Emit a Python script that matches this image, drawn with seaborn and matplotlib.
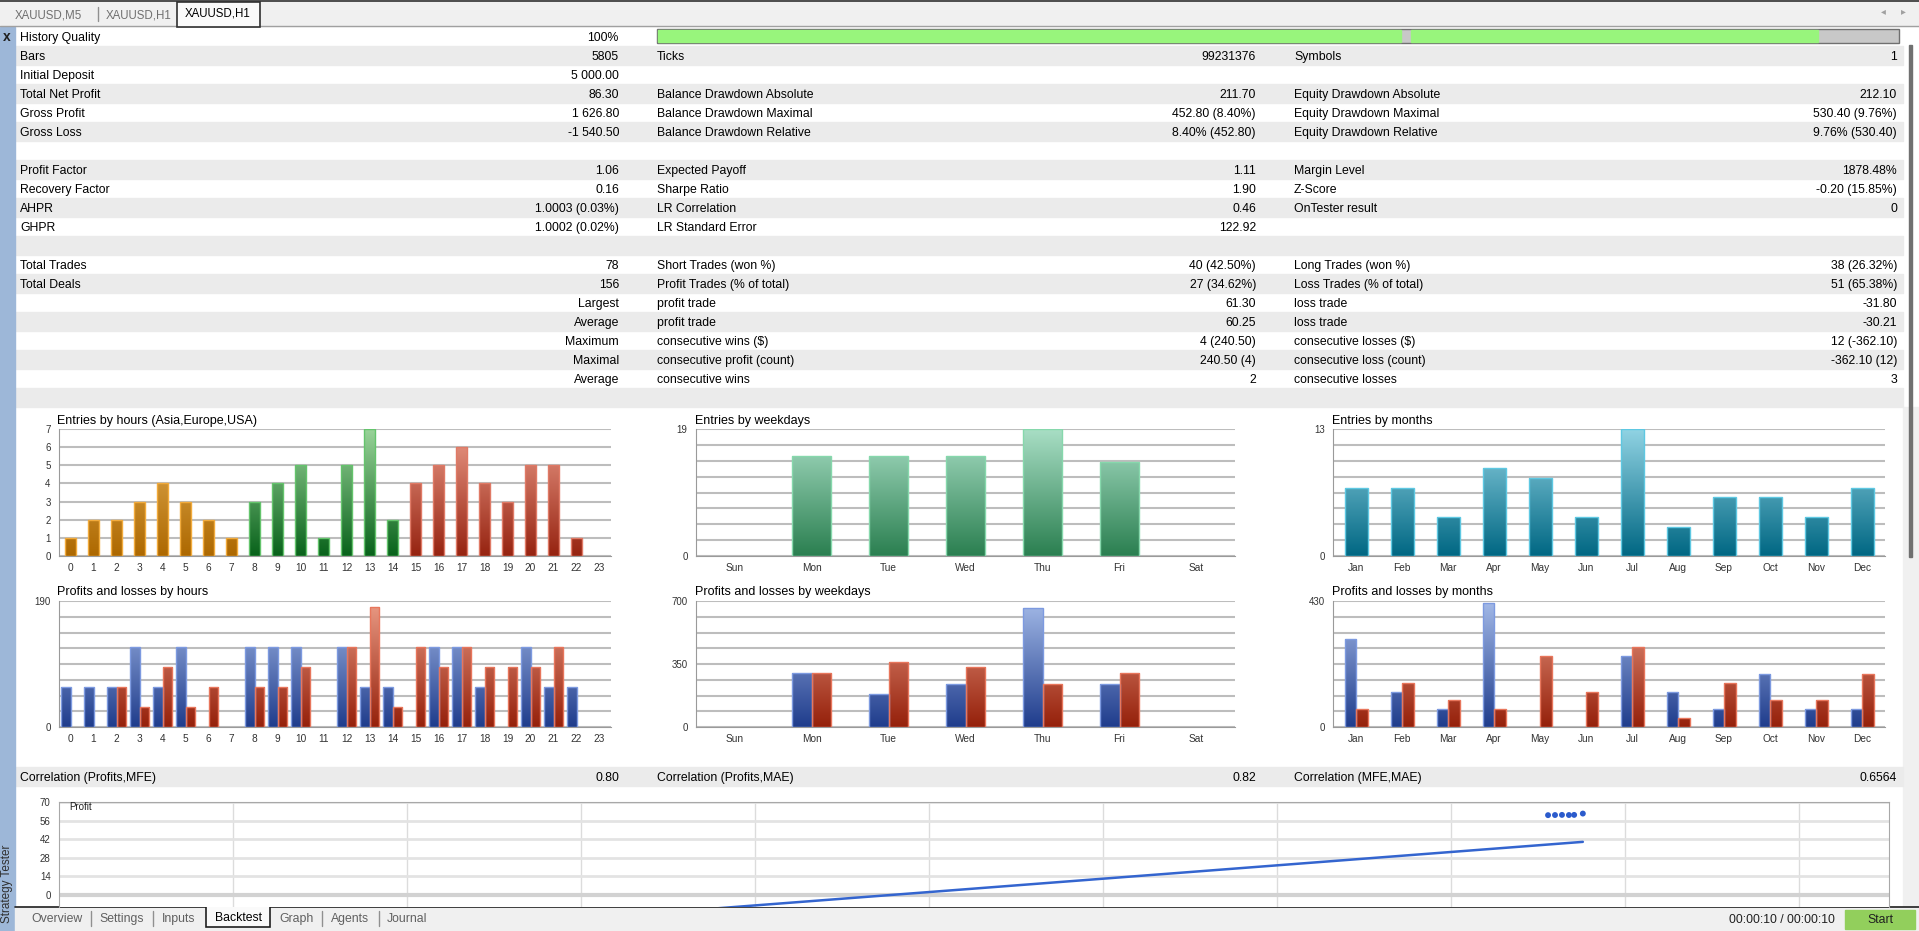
import numpy as np
import pandas as pd
import matplotlib
matplotlib.use('Agg')
import matplotlib.pyplot as plt
from matplotlib.colors import LinearSegmentedColormap
from matplotlib.patches import Rectangle
import seaborn as sns

# ---------------- values ----------------
col1_labels = ["History Quality", "Bars", "Initial Deposit", "Total Net Profit", "Gross Profit", "Gross Loss", "",
               "Profit Factor", "Recovery Factor", "AHPR", "GHPR", "",
               "Total Trades", "Total Deals", "", "", "", "", "", ""]
col1_values = ["100%", "5805", "5 000.00", "86.30", "1 626.80", "-1 540.50", "",
               "1.06", "0.16", "1.0003 (0.03%)", "1.0002 (0.02%)", "",
               "78", "156", "Largest", "Average", "Maximum", "Maximal", "Average", ""]
col2_labels = ["", "Ticks", "", "Balance Drawdown Absolute", "Balance Drawdown Maximal", "Balance Drawdown Relative", "",
               "Expected Payoff", "Sharpe Ratio", "LR Correlation", "LR Standard Error", "",
               "Short Trades (won %)", "Profit Trades (% of total)", "profit trade", "profit trade",
               "consecutive wins ($)", "consecutive profit (count)", "consecutive wins", ""]
col2_values = ["", "99231376", "", "211.70", "452.80 (8.40%)", "8.40% (452.80)", "",
               "1.11", "1.90", "0.46", "122.92", "",
               "40 (42.50%)", "27 (34.62%)", "61.30", "60.25", "4 (240.50)", "240.50 (4)", "2", ""]
col3_labels = ["", "Symbols", "", "Equity Drawdown Absolute", "Equity Drawdown Maximal", "Equity Drawdown Relative", "",
               "Margin Level", "Z-Score", "OnTester result", "", "",
               "Long Trades (won %)", "Loss Trades (% of total)", "loss trade", "loss trade",
               "consecutive losses ($)", "consecutive loss (count)", "consecutive losses", ""]
col3_values = ["", "1", "", "212.10", "530.40 (9.76%)", "9.76% (530.40)", "",
               "1878.48%", "-0.20 (15.85%)", "0", "", "",
               "38 (26.32%)", "51 (65.38%)", "-31.80", "-30.21", "12 (-362.10)", "-362.10 (12)", "3", ""]

corr_labels = ["Correlation (Profits,MFE)", "Correlation (Profits,MAE)", "Correlation (MFE,MAE)"]
corr_values = ["0.80", "0.82", "0.6564"]

hours = [str(h) for h in range(24)]
hour_session = ['Asia'] * 8 + ['Europe'] * 7 + ['USA'] * 9
hour_entries = [1, 2, 2, 3, 4, 3, 2, 1, 3, 4, 5, 1, 5, 7, 2, 4, 5, 6, 4, 3, 5, 5, 1, 0]
hour_profit = [60.3, 60.3, 60.3, 120.5, 60.3, 120.5, 0, 0, 120.5, 120.5, 120.5, 0,
               120.5, 60.3, 60.3, 0, 120.5, 120.5, 60.3, 0, 120.5, 60.3, 60.3, 0]
hour_loss = [0, 0, 60.4, 30.2, 90.6, 30.2, 60.4, 0, 60.4, 60.4, 90.6, 0,
             120.8, 181.3, 30.2, 120.8, 90.6, 120.8, 90.6, 90.6, 90.6, 120.8, 0, 0]

days = ['Sun', 'Mon', 'Tue', 'Wed', 'Thu', 'Fri', 'Sat']
day_entries = [0, 15, 15, 15, 19, 14, 0]
day_profit = [0, 301.2, 180.8, 241.0, 662.8, 241.0, 0]
day_loss = [0, 302.0, 362.1, 332.2, 241.6, 302.0, 0]

months = ['Jan', 'Feb', 'Mar', 'Apr', 'May', 'Jun', 'Jul', 'Aug', 'Sep', 'Oct', 'Nov', 'Dec']
month_entries = [7, 7, 4, 9, 8, 4, 13, 3, 6, 6, 4, 7]
month_profit = [301.2, 120.5, 60.3, 421.8, 0, 0, 241.0, 120.5, 60.3, 180.8, 60.3, 60.3]
month_loss = [60.4, 151.0, 90.6, 60.4, 241.6, 120.8, 271.8, 30.2, 151.0, 90.6, 90.6, 181.2]

# profit vs MFE (only winning trades are inside the visible window)
win_mfe = [85.6, 86.0, 86.4, 86.8, 87.1, 87.6]
win_profit = [60.1, 60.2, 60.3, 60.2, 60.3, 61.3]
lr_mfe = [30.0, 87.6]
lr_profit = [-17.9, 40.0]

# ---------------- figure ----------------
sns.set_style("white")
plt.rcParams['font.family'] = ['Liberation Sans', 'DejaVu Sans']
NARROW = ['Liberation Sans Narrow', 'Liberation Sans', 'DejaVu Sans']

W, H = 1919, 931
fig = plt.figure(figsize=(W / 100, H / 100), dpi=100)
fig.patch.set_facecolor('white')
bg = fig.add_axes([0, 0, 1, 1])
bg.set_xlim(0, W)
bg.set_ylim(H, 0)
bg.axis('off')


def px_axes(l, t, r, b):
    return fig.add_axes([l / W, 1 - b / H, (r - l) / W, (b - t) / H])


# top tab strip
bg.add_patch(Rectangle((0, 0), W, 26, color='#f0f0f0', zorder=0))
bg.plot([0, W], [1, 1], color='#303030', lw=1.2)
bg.plot([0, W], [26, 26], color='#a0a0a0', lw=1)
bg.add_patch(Rectangle((177, 2), 83, 25, facecolor='#fafafa', edgecolor='#303030', lw=1.2, zorder=2))
bg.text(48, 15, "XAUUSD,M5", ha='center', va='center', fontsize=8.3, color='#707070')
bg.plot([98, 98], [7, 21], color='#909090', lw=1)
bg.text(139, 15, "XAUUSD,H1", ha='center', va='center', fontsize=8.3, color='#707070')
bg.text(218, 14, "XAUUSD,H1", ha='center', va='center', fontsize=8.3, color='black', zorder=3)
bg.text(1883, 11, "◂", ha='center', va='center', fontsize=7, color='#a0a0a0', family=['DejaVu Sans'])
bg.text(1903, 11, "▸", ha='center', va='center', fontsize=7, color='#a0a0a0', family=['DejaVu Sans'])

# left strip
bg.add_patch(Rectangle((0, 27), 15, H - 27, color='#9db7d8', zorder=1))
bg.text(7, 37, "x", ha='center', va='center', fontsize=10, fontweight='bold', color='#202020', zorder=3)
bg.text(7, 884, "Strategy Tester", rotation=90, ha='center', va='center', fontsize=8.5, color='#303030', zorder=3)

# right strip + scroll thumb
bg.add_patch(Rectangle((1903, 407), 16, 500, color='#f0f0f0', zorder=0))
bg.add_patch(Rectangle((1909, 45), 3, 512, color='#707070', zorder=2))

# statistics table
ROW_TOP, ROW_H = 27, 19
TXT = dict(va='center', fontsize=8.8, color='black')
for k in range(len(col1_labels)):
    y = ROW_TOP + ROW_H * k
    if k % 2:
        bg.add_patch(Rectangle((15, y), 1888, ROW_H, color='#ebebeb', zorder=0))
    yc = y + ROW_H / 2 + 1.5
    bg.text(20, yc, col1_labels[k], ha='left', **TXT)
    bg.text(619, yc, col1_values[k], ha='right', **TXT)
    bg.text(657, yc, col2_labels[k], ha='left', **TXT)
    bg.text(1256, yc, col2_values[k], ha='right', **TXT)
    bg.text(1294, yc, col3_labels[k], ha='left', **TXT)
    bg.text(1897, yc, col3_values[k], ha='right', **TXT)

# history quality bar
bg.add_patch(Rectangle((657, 29), 1242, 14, facecolor='#c8c8c8', edgecolor='#707070', lw=1, zorder=1))
bg.add_patch(Rectangle((658, 30), 743, 12, color='#98f57c', zorder=2))
bg.add_patch(Rectangle((1411, 30), 407, 12, color='#98f57c', zorder=2))

# correlation row
bg.add_patch(Rectangle((15, 767), 1888, ROW_H, color='#ebebeb', zorder=0))
for lx, vx, lab, val in zip([20, 657, 1294], [619, 1256, 1897], corr_labels, corr_values):
    bg.text(lx, 778, lab, ha='left', **TXT)
    bg.text(vx, 778, val, ha='right', **TXT)

# bottom tab strip
bg.add_patch(Rectangle((15, 907), W - 15, 24, color='#f0f0f0', zorder=1))
bg.plot([15, W], [907, 907], color='#202020', lw=1.2, zorder=2)
bg.add_patch(Rectangle((206, 906), 64, 21, facecolor='#fafafa', edgecolor='#202020', lw=1.2, zorder=3))
for name, cx in zip(["Overview", "Settings", "Inputs", "Graph", "Agents", "Journal"],
                    [57, 122, 179, 296, 350, 407]):
    bg.text(cx, 919, name, ha='center', va='center', fontsize=8.8, color='#606060', zorder=4)
bg.text(238, 918, "Backtest", ha='center', va='center', fontsize=8.8, color='black', zorder=4)
for sx in [91, 153, 322, 379]:
    bg.plot([sx, sx], [911, 926], color='#909090', lw=1, zorder=4)
bg.text(1835, 920, "00:00:10 / 00:00:10", ha='right', va='center', fontsize=8.8, color='#202020', zorder=4)
bg.add_patch(Rectangle((1845, 910), 70, 19, color='#92cf5c', zorder=3))
bg.text(1880, 920, "Start", ha='center', va='center', fontsize=8.8, color='#202020', zorder=4)

# ---------------- bar charts ----------------
GRAD = np.linspace(0, 1, 256).reshape(-1, 1)


def shade(ax, bars, bottom, top, edge, ymax):
    cmap = LinearSegmentedColormap.from_list('g', [bottom, top])
    for b in bars:
        if b.get_height() <= 0:
            b.set_visible(False)
            continue
        x0, w = b.get_x(), b.get_width()
        im = ax.imshow(GRAD, extent=[x0, x0 + w, 0, ymax], origin='lower', aspect='auto',
                       cmap=cmap, zorder=1.5, interpolation='bilinear')
        im.set_clip_path(b)
        b.set_facecolor('none')
        b.set_edgecolor(edge)
        b.set_linewidth(1.0)
        b.set_zorder(2)


def style(ax, ncat, ymax, yticks, ylabels):
    ax.set_xlim(-0.5, ncat - 0.5)
    ax.set_ylim(0, ymax)
    ax.set_yticks(yticks)
    ax.set_yticklabels(ylabels, family=NARROW, fontsize=7, color='#333333')
    ax.set_xticks(np.arange(ncat))
    ax.set_xticks(np.arange(ncat + 1) - 0.5, minor=True)
    for t in ax.get_xticklabels():
        t.set_family(NARROW)
        t.set_fontsize(7.3)
        t.set_color('#333333')
    ax.tick_params(axis='x', which='major', length=0, pad=5)
    ax.tick_params(axis='x', which='minor', length=5, color='#9a9a9a', width=1)
    ax.tick_params(axis='y', length=4, color='#9a9a9a', pad=2)
    ax.grid(axis='y', color='#bdbdbd', lw=1.5)
    ax.set_axisbelow(True)
    for s in ['top', 'right']:
        ax.spines[s].set_visible(False)
    for s in ['left', 'bottom']:
        ax.spines[s].set_color('#9a9a9a')
    ax.set_xlabel('')
    ax.set_ylabel('')


def ends(ymax, n=9):
    ticks = np.linspace(0, ymax, n)
    labels = ['0'] + [''] * (n - 2) + [f"{ymax:g}"]
    return ticks, labels


BLUE = ('#1f3c8c', '#a4bae8', '#7d9ae0')
RED = ('#95200a', '#eb9c86', '#e8765c')


def pl_chart(ax, cats, profit, loss, ymax, width, yticks, ylabels):
    df = pd.DataFrame({'cat': cats * 2, 'kind': ['Profit'] * len(cats) + ['Loss'] * len(cats),
                       'value': profit + loss})
    sns.barplot(df, x='cat', y='value', hue='kind', hue_order=['Profit', 'Loss'], order=cats,
                palette=[BLUE[0], RED[0]], width=width, errorbar=None, legend=False, ax=ax)
    shade(ax, ax.containers[0], BLUE[0], BLUE[1], BLUE[2], ymax)
    shade(ax, ax.containers[1], RED[0], RED[1], RED[2], ymax)
    style(ax, len(cats), ymax, yticks, ylabels)


# hours
ax = px_axes(59, 429, 611, 556)
df = pd.DataFrame({'hour': hours, 'entries': hour_entries, 'session': hour_session})
sns.barplot(df, x='hour', y='entries', hue='session', hue_order=['Asia', 'Europe', 'USA'], order=hours,
            palette=['#b06a00', '#0b6619', '#992510'], dodge=False, width=0.5, errorbar=None,
            legend=False, ax=ax)
session_cols = [('#ad6800', '#e6b25a', '#f2ab3c'), ('#08621a', '#9ad49a', '#64c46c'), ('#962310', '#eb9a88', '#e07a66')]
for cont, (lo, hi, ed) in zip(ax.containers, session_cols):
    shade(ax, cont, lo, hi, ed, 7)
style(ax, 24, 7, np.arange(8), [str(i) for i in range(8)])

ax = px_axes(59, 601, 611, 727)
pl_chart(ax, hours, hour_profit, hour_loss, 190, 0.8, *ends(190))

# weekdays
ax = px_axes(696, 429, 1235, 556)
df = pd.DataFrame({'day': days, 'entries': day_entries})
sns.barplot(df, x='day', y='entries', order=days, color='#2a7f50', width=0.5, errorbar=None, ax=ax)
shade(ax, ax.containers[0], '#2a7f50', '#aadfc6', '#86d8ac', 19)
style(ax, 7, 19, *ends(19))

ax = px_axes(696, 601, 1235, 727)
yt = np.linspace(0, 700, 9)
pl_chart(ax, days, day_profit, day_loss, 700, 0.5, yt,
         ['0', '', '', '', '350', '', '', '', '700'])

# months
ax = px_axes(1333, 429, 1885, 556)
df = pd.DataFrame({'month': months, 'entries': month_entries})
sns.barplot(df, x='month', y='entries', order=months, color='#006a85', width=0.5, errorbar=None, ax=ax)
shade(ax, ax.containers[0], '#006783', '#92d4e4', '#5ec8e2', 13)
style(ax, 12, 13, *ends(13))

ax = px_axes(1333, 601, 1885, 727)
pl_chart(ax, months, month_profit, month_loss, 430, 0.5, *ends(430))

# chart titles
TITLE = dict(ha='left', va='center', fontsize=9, color='black')
bg.text(57, 421, "Entries by hours (Asia,Europe,USA)", **TITLE)
bg.text(57, 592, "Profits and losses by hours", **TITLE)
bg.text(695, 421, "Entries by weekdays", **TITLE)
bg.text(695, 592, "Profits and losses by weekdays", **TITLE)
bg.text(1332, 421, "Entries by months", **TITLE)
bg.text(1332, 592, "Profits and losses by months", **TITLE)

# ---------------- profit / MFE scatter ----------------
ax = px_axes(59, 802, 1889, 907)
sns.scatterplot(x=win_mfe, y=win_profit, ax=ax, color='#2b5bcc', s=18, edgecolor='none', zorder=3)
sns.lineplot(x=lr_mfe, y=lr_profit, ax=ax, color='#3465cf', lw=1.8, zorder=3)
ax.set_xlim(0, 105.2)
ax.set_ylim(-9.03, 70)
ax.set_yticks([0, 14, 28, 42, 56, 70])
ax.set_yticklabels(['0', '14', '28', '42', '56', '70'], family=NARROW, fontsize=7, color='#333333')
ax.set_xticks(np.arange(10, 101, 10))
ax.tick_params(axis='x', length=0, labelbottom=False)
ax.tick_params(axis='y', length=4, color='#9a9a9a', pad=2)
ax.grid(axis='y', color='#e3e3e3', lw=2)
ax.grid(axis='x', color='#dcdcdc', lw=1)
ax.axhline(0, color='#d2d2d2', lw=3, zorder=0.8)
ax.set_axisbelow(True)
for s in ['top', 'right', 'left']:
    ax.spines[s].set_color('#a8a8a8')
ax.spines['bottom'].set_visible(False)
ax.text(0.6, 66.5, "Profit", ha='left', va='center', fontsize=7, family=NARROW, color='#202020')

fig.savefig('out.png', dpi=100)
